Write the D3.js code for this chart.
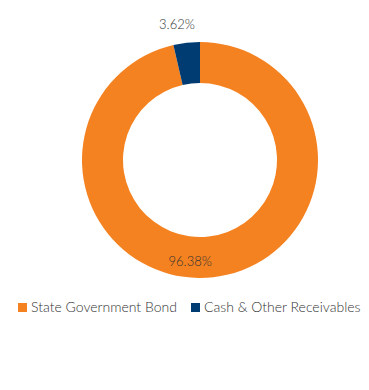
<!DOCTYPE html>
<html>
<head>
<meta charset="utf-8">
<script src="https://d3js.org/d3.v7.min.js"></script>
<style>
  body { margin: 0; background: #fff; }
  text { font-family: "Lato", "Open Sans", sans-serif; fill: #333; }
</style>
</head>
<body>
<svg id="chart"></svg>
<script>
// data
var categories = ["State Government Bond", "Cash & Other Receivables"];
var values = [96.38, 3.62];
var labels = ["96.38%", "3.62%"];
var colors = ["#f58220", "#003b71"];

var width = 369, height = 390;
var cx = 200, cy = 160;
var outerR = 118, innerR = 77;

var svg = d3.select("#chart")
    .attr("width", width)
    .attr("height", height);

var pie = d3.pie().sort(null).value(function(d) { return d; });
var arcs = pie(values);

var arc = d3.arc().innerRadius(innerR).outerRadius(outerR);

var g = svg.append("g").attr("transform", "translate(" + cx + "," + cy + ")");

g.selectAll("path")
    .data(arcs)
    .enter().append("path")
    .attr("d", arc)
    .attr("fill", function(d, i) { return colors[i]; });

// inside label for big slice, outside label for small one
var labelR = [102, 138];
var labelShift = [0.21, -0.054]; // radians, nudged to where the original put them
function labelAngle(d, i) {
    return (d.startAngle + d.endAngle) / 2 + labelShift[i];
}
g.selectAll("text.lbl")
    .data(arcs)
    .enter().append("text")
    .attr("class", "lbl")
    .attr("x", function(d, i) { return Math.sin(labelAngle(d, i)) * labelR[i]; })
    .attr("y", function(d, i) { return -Math.cos(labelAngle(d, i)) * labelR[i]; })
    .attr("dy", "0.35em")
    .attr("text-anchor", "middle")
    .style("font-size", "13px")
    .style("font-weight", 300)
    .text(function(d, i) { return labels[i]; });

// legend
var legendX = [18, 191];
var legend = svg.selectAll("g.legend")
    .data(categories)
    .enter().append("g")
    .attr("class", "legend")
    .attr("transform", function(d, i) { return "translate(" + legendX[i] + ",303)"; });

legend.append("rect")
    .attr("width", 9)
    .attr("height", 9)
    .attr("fill", function(d, i) { return colors[i]; });

legend.append("text")
    .attr("x", 13)
    .attr("y", 9)
    .style("font-size", "14px")
    .style("font-weight", 300)
    .text(function(d) { return d; });
</script>
</body>
</html>
